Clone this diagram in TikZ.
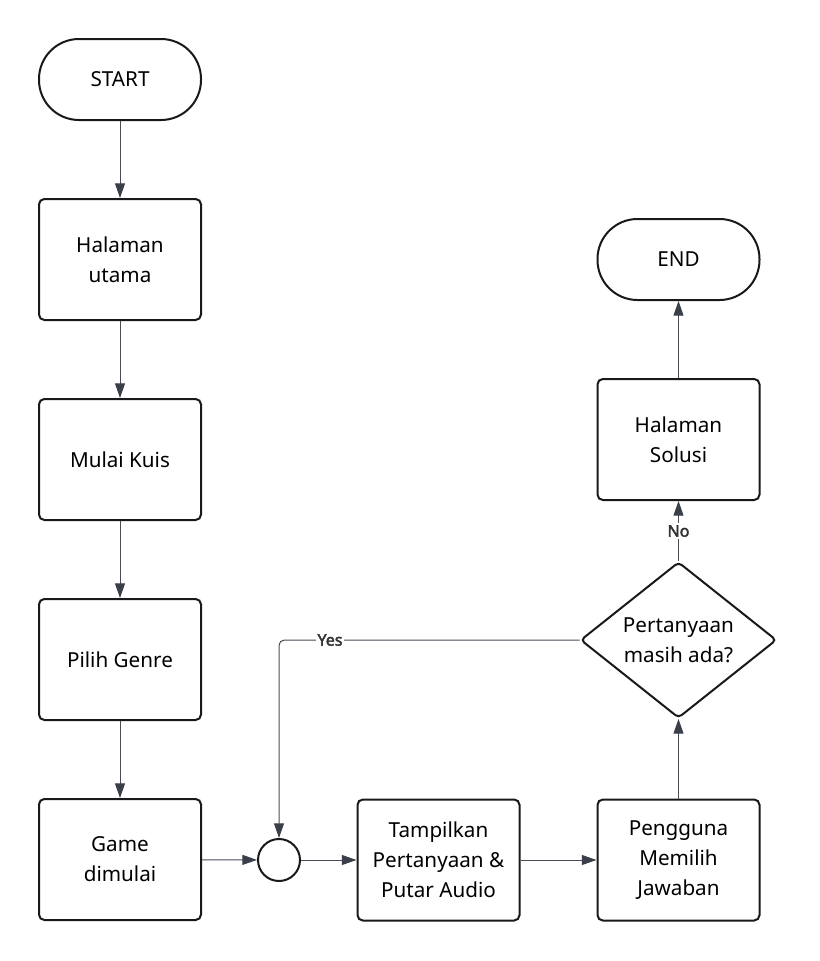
\documentclass[tikz,border=0pt]{standalone}
\usepackage{fontspec}
\setmainfont{Noto Sans}[AutoFakeBold=2.5]
\usepackage{tikz}
\usetikzlibrary{arrows.meta,shapes.geometric}
\definecolor{linegray}{HTML}{474C55}
\definecolor{tipgray}{HTML}{3A3F4A}
\definecolor{lblgray}{HTML}{333333}

\begin{document}
\begin{tikzpicture}[x=0.75pt,y=-0.75pt,->,>={Triangle[length=11pt,width=7.5pt,color=tipgray]},line width=0.75pt,draw=linegray]
      \tikzstyle{every node}=[draw=black!90,line width=1.5pt,font=\fontsize{15.5pt}{22.5pt}\selectfont,align=center]
      \tikzstyle{box}=[rectangle,rounded corners=4pt,minimum width=121.5pt,minimum height=90.75pt,inner sep=0pt]
      \tikzstyle{term}=[rectangle,rounded corners=30pt,minimum width=121.5pt,minimum height=60.75pt,inner sep=0pt]
      \tikzstyle{dec}=[diamond,rounded corners=3pt,minimum width=147pt,minimum height=117pt,inner sep=0pt,aspect=1.25]
      \tikzstyle{mergept}=[circle,minimum size=31.5pt,inner sep=0pt]
      \tikzstyle{lbl}=[draw=none,fill=white,inner sep=1.5pt,text=lblgray,font=\fontsize{12pt}{14pt}\selectfont\bfseries]

      \useasboundingbox (0,0) rectangle (819,961);

      \node[term] (start) at (120,79.5) {START};
      \node[box] (hal) at (120,259.5) {Halaman\\utama};
      \node[box] (mulai) at (120,459.5) {Mulai Kuis};
      \node[box] (genre) at (120,659.5) {Pilih Genre};
      \node[box] (game) at (120,859.5) {Game\\dimulai};

      \node[mergept] (merge) at (279,860) {};
      \node[box] (tampil) at (438.5,860) {Tampilkan\\Pertanyaan \&\\Putar Audio};
      \node[box] (pilih) at (678.5,860) {Pengguna\\Memilih\\Jawaban};

      \node[dec] (cek) at (678.5,640) {Pertanyaan\\masih ada?};
      \node[box] (solusi) at (678.5,439.5) {Halaman\\Solusi};
      \node[term] (end) at (678.5,259.5) {END};

      \draw (start) -- (hal);
      \draw (hal) -- (mulai);
      \draw (mulai) -- (genre);
      \draw (genre) -- (game);

      \draw (game) -- (merge);
      \draw (merge) -- (tampil);
      \draw (tampil) -- (pilih);
      \draw (pilih) -- (cek);

      \draw[rounded corners=4pt] (cek.west) -| (merge.north);
      \node[lbl] (yes) at (330,640) {Yes};

      \draw (cek) -- (solusi);
      \node[lbl] (no) at (678.5,531) {No};

      \draw (solusi) -- (end);

    \end{tikzpicture}
\end{document}
